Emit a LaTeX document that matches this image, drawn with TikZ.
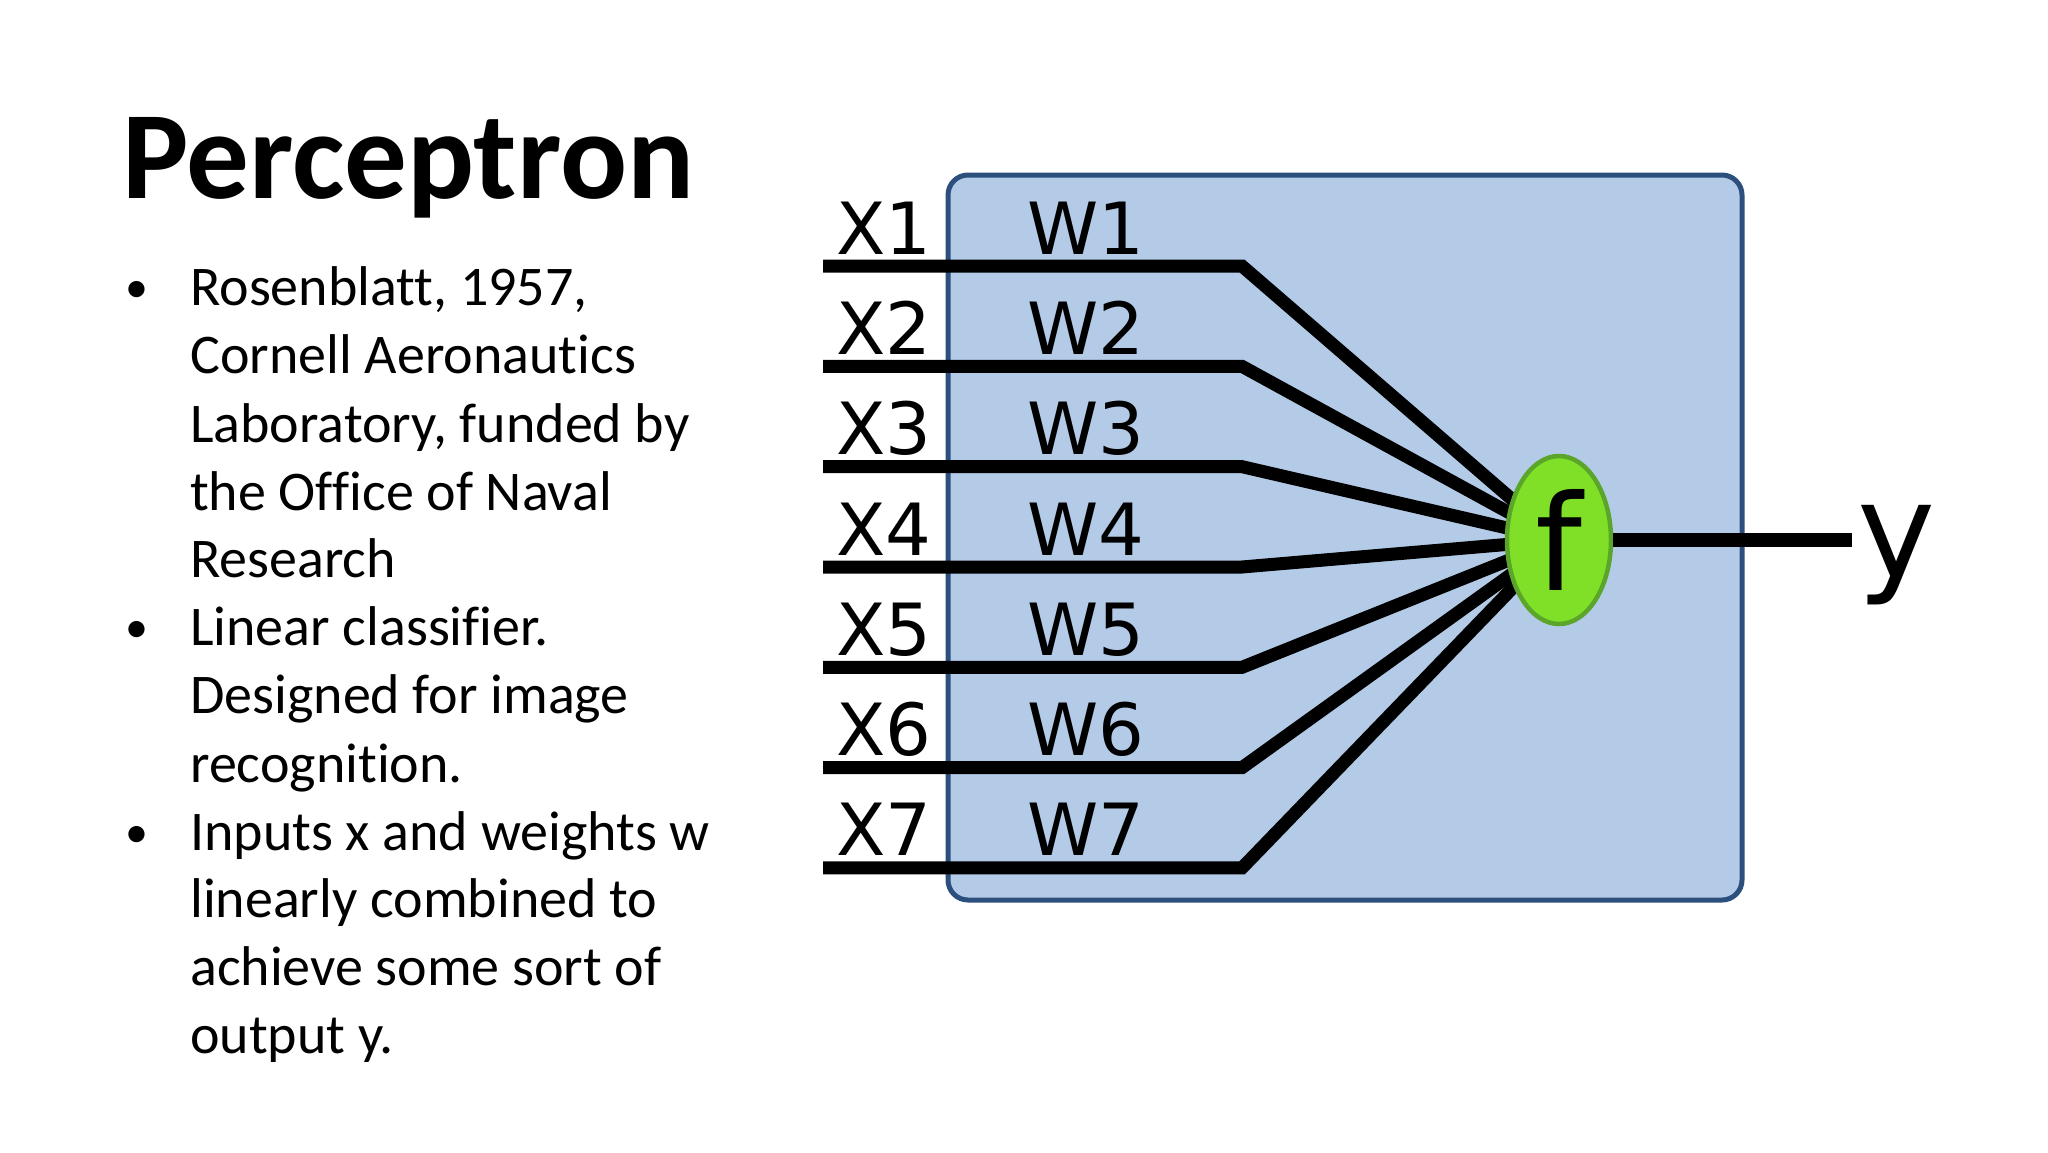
\documentclass[tikz,border=0pt]{standalone}
\usepackage{fontspec}
\setmainfont{Carlito}[Ligatures=NoCommon]
\newfontfamily\djv{DejaVu Sans}
\usetikzlibrary{shapes.geometric}
\definecolor{boxfill}{HTML}{B4CBE8}
\definecolor{boxline}{HTML}{2C4F7D}
\definecolor{nodefill}{HTML}{80E028}
\definecolor{nodeline}{HTML}{5AA52A}
\tikzset{
  wire/.style={line width=13pt, black, line join=miter},
  xlab/.style={font=\djv\fontsize{72}{72}\selectfont, inner sep=0pt, anchor=base west},
  btext/.style={font=\fontsize{56}{68}\selectfont, inner sep=0pt, anchor=base west},
  bul/.style={font=\fontsize{46}{68}\selectfont, inner sep=0pt, anchor=base west},
  neuron/.style={ellipse, draw=nodeline, fill=nodefill, line width=4.5pt,
    minimum width=104pt, minimum height=168pt, inner sep=0pt,
    font=\djv\fontsize{133}{133}\selectfont},
}
\begin{document}
\begin{tikzpicture}[x=1pt,y=-1pt]
\useasboundingbox (0,0) rectangle (2048,1152);
\fill[white] (0,0) rectangle (2048,1152);
% title
\node[font=\bfseries\fontsize{125}{130}\selectfont, inner sep=0pt, anchor=base west] (title) at (122,198) {Perceptron};
% bullets
\node[bul] (bu1) at (125,302) {•};
\node[bul] (bu2) at (125,642) {•};
\node[bul] (bu3) at (125,847) {•};
\node[btext] (t1) at (190,305) {Rosenblatt, 1957,};
\node[btext] (t2) at (190,373) {Cornell Aeronautics};
\node[btext] (t3) at (190,442) {Laboratory, funded by};
\node[btext] (t4) at (190,510) {the Office of Naval};
\node[btext] (t5) at (190,577) {Research};
\node[btext] (t6) at (190,645) {Linear classifier.};
\node[btext] (t7) at (190,713) {Designed for image};
\node[btext] (t8) at (190,782) {recognition.};
\node[btext] (t9) at (190,850) {Inputs x and weights w};
\node[btext] (t10) at (190,917) {linearly combined to};
\node[btext] (t11) at (190,985) {achieve some sort of};
\node[btext] (t12) at (190,1053) {output y.};
% box
\draw[boxline, fill=boxfill, line width=5pt, rounded corners=20pt] (948,175) rectangle (1742,900);
\coordinate (fc) at (1559,540);
\foreach \i in {1,...,7} {
  \pgfmathsetmacro\yy{266+100.33*(\i-1)}
  \coordinate (a\i) at (823,\yy);
  \coordinate (b\i) at (1242,\yy);
  \draw[wire] (a\i) -- (b\i) -- (fc);
  \node[xlab] (X\i) at (836,\yy-12) {X\i};
  \node[xlab] (W\i) at (1027,\yy-12) {W\i};
}
\node[neuron] (f) at (fc) {f};
\coordinate (yend) at (1852,540);
\draw[line width=14pt] (f.east) -- (yend);
\node[font=\djv\fontsize{132}{132}\selectfont, inner sep=0pt, anchor=base west] (ylab) at (1857,577) {y};
\end{tikzpicture}
\end{document}
